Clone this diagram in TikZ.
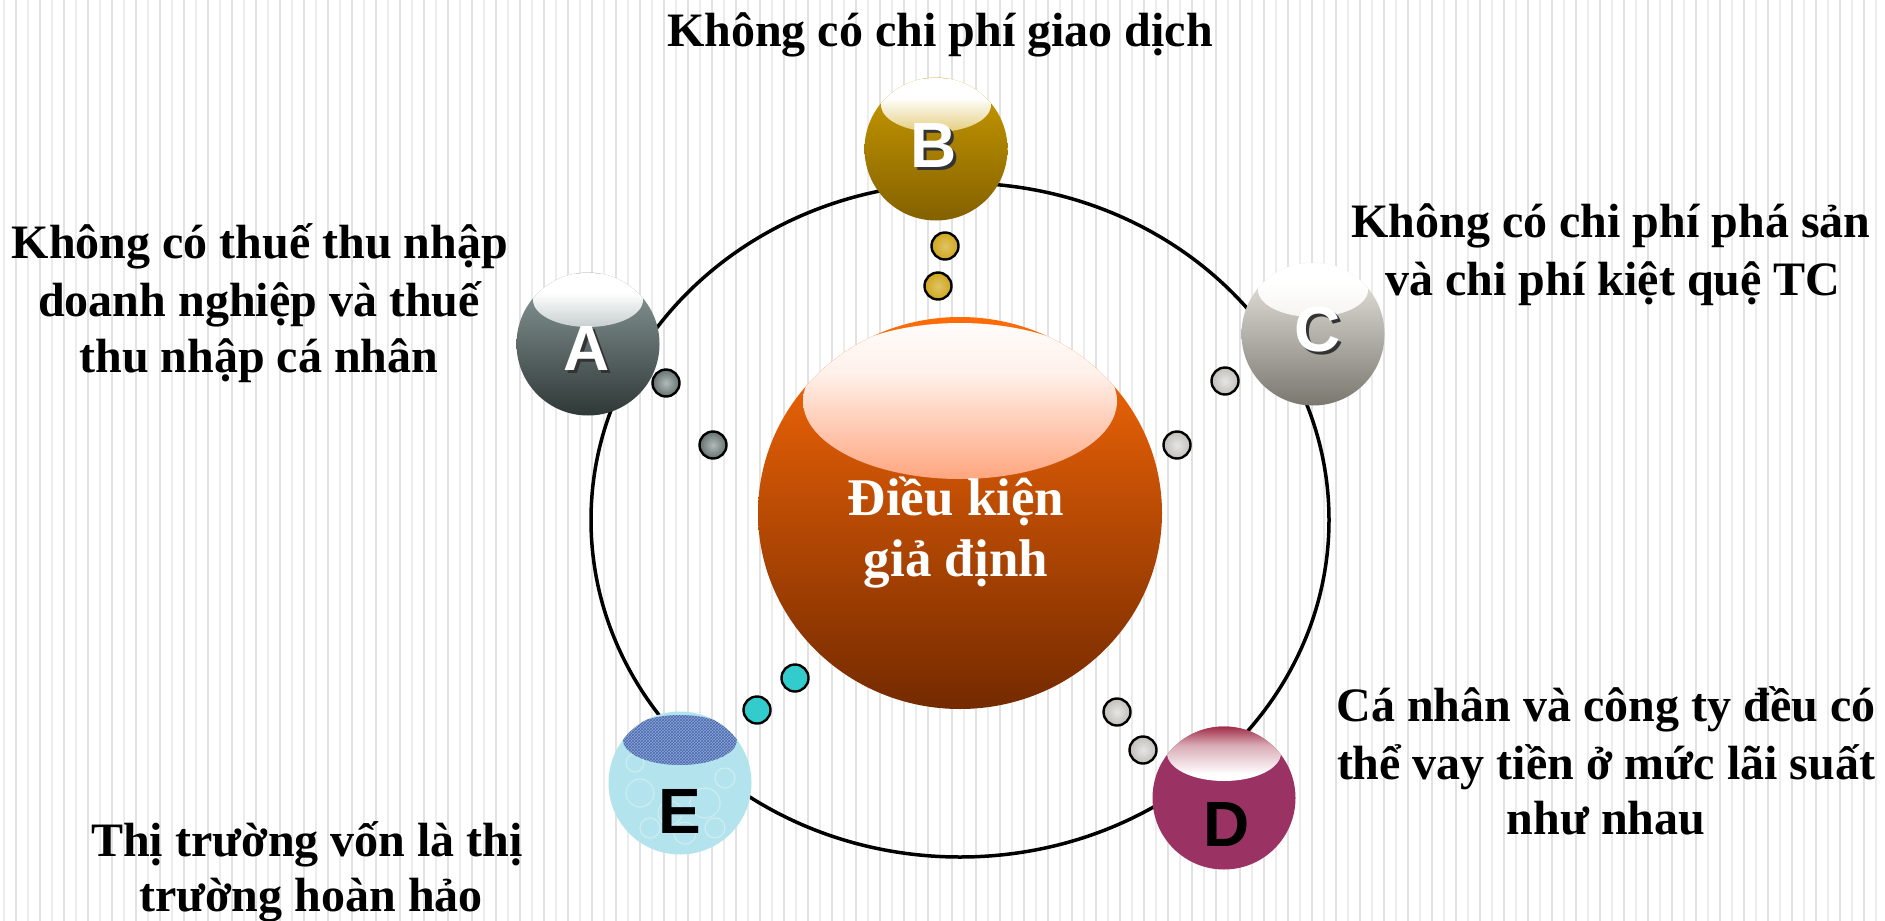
\documentclass[tikz,border=0pt]{standalone}
\usepackage{fontspec}
\setmainfont{Liberation Serif}
\newfontfamily\ballfont{Liberation Sans}
\usetikzlibrary{shapes.geometric,patterns,calc}

\definecolor{stripeA}{HTML}{E2E2E2}
\definecolor{stripeB}{HTML}{ECECEC}
\definecolor{coreTop}{HTML}{FF6C08}
\definecolor{coreMid}{HTML}{D35400}
\definecolor{coreBot}{HTML}{742A00}
\definecolor{coreHi}{HTML}{FF7438}
\definecolor{aTop}{HTML}{8E9E9C}
\definecolor{aMid}{HTML}{65716F}
\definecolor{aBot}{HTML}{2E3837}
\definecolor{bTop}{HTML}{CA9C00}
\definecolor{bMid}{HTML}{B08700}
\definecolor{bBot}{HTML}{846100}
\definecolor{cTop}{HTML}{EEECE6}
\definecolor{cMid}{HTML}{C2BFB8}
\definecolor{cBot}{HTML}{7A776F}
\definecolor{dBody}{HTML}{9B3264}
\definecolor{dRim}{HTML}{93102F}
\definecolor{eBody}{HTML}{B3E3EC}
\definecolor{eCap}{HTML}{8EA6DA}
\definecolor{eWeave}{HTML}{4A68AA}
\definecolor{dotCyan}{HTML}{33CCCC}

% glossy caps: white at the top, fading into the body colour below
\pgfdeclareverticalshading{hiCore}{100bp}{color(0bp)=(coreTop!85!coreMid); color(30bp)=(coreTop!85!coreMid);
  color(45bp)=(coreHi); color(58bp)=(coreHi!50!white); color(68bp)=(coreHi!10!white); color(76bp)=(white); color(100bp)=(white)}
\pgfdeclareverticalshading{hiA}{100bp}{color(0bp)=(aTop!92!black); color(44bp)=(aTop!92!black);
  color(56bp)=(aTop!50!white); color(68bp)=(white); color(100bp)=(white)}
\pgfdeclareverticalshading{hiB}{100bp}{color(0bp)=(bTop); color(44bp)=(bTop);
  color(56bp)=(bTop!50!white); color(68bp)=(white); color(100bp)=(white)}
\pgfdeclareverticalshading{hiC}{100bp}{color(0bp)=(cTop!94!black); color(44bp)=(cTop!94!black);
  color(56bp)=(cTop!60!white); color(68bp)=(white); color(100bp)=(white)}
\pgfdeclareverticalshading{hiD}{100bp}{color(0bp)=(white); color(58bp)=(white);
  color(68bp)=(dRim!35!white); color(76bp)=(dRim); color(100bp)=(dRim)}

\newcommand\castshadow[1]{\makebox[0pt][l]{\hspace{3pt}\raisebox{-3pt}{\color{black!80}#1}}#1}

\tikzset{
  stripethick/.style={stripeA, line width=2pt},
  stripethin/.style={stripeB, line width=1.1pt},
  orbit/.style={line width=3.5pt, black},
  ball/.style={circle, inner sep=0pt, minimum size=143pt},
  glossball/.style n args={4}{ball, top color=#1, middle color=#2, bottom color=#3,
    path picture={\shade[shading=#4]
      ([yshift=44pt]path picture bounding box.center) ellipse [x radius=55pt, y radius=27pt];}},
  letter/.style={font=\ballfont\bfseries\fontsize{64}{64}\selectfont, inner sep=0pt},
  pellet/.style={circle, inner sep=0pt, minimum size=27pt, draw=black, line width=2.4pt},
  caption/.style={font=\bfseries\fontsize{48}{56}\selectfont, anchor=base, inner sep=0pt},
  corecaption/.style={font=\bfseries\fontsize{53}{60}\selectfont, text=white, anchor=base, inner sep=0pt},
}

\begin{document}
\begin{tikzpicture}[x=1pt, y=-1pt]
\useasboundingbox (0,0) rectangle (1885,921);
\fill[white] (0,0) rectangle (1885,921);

% striped backdrop
\foreach \i in {0,...,78}{
  \draw[stripethin]  (4+24*\i,0) -- (4+24*\i,921);
  \draw[stripethick] (16+24*\i,0) -- (16+24*\i,921);
}

% orbit
\draw[orbit] (960,520) ellipse [x radius=369, y radius=337];

% central sphere
\node[ellipse, inner sep=0pt, minimum width=404pt, minimum height=392pt,
      top color=coreTop, middle color=coreMid, bottom color=coreBot,
      path picture={\shade[shading=hiCore]
        ([yshift=112pt]path picture bounding box.center) ellipse [x radius=157pt, y radius=78pt];}]
      (core) at (960,513) {};
\node[corecaption] (core1) at (956,515) {Điều kiện};
\node[corecaption] (core2) at (956,576) {giả định};

% outer spheres
\node[glossball={aTop}{aMid}{aBot}{hiA}] (A) at (588,344) {};
\node[glossball={bTop}{bMid}{bBot}{hiB}] (B) at (936,149) {};
\node[glossball={cTop}{cMid}{cBot}{hiC}] (C) at (1313,334) {};
\node[ball, fill=dBody,
      path picture={\shade[shading=hiD]
        ([yshift=45pt]path picture bounding box.center) ellipse [x radius=57pt, y radius=28pt];}]
      (D) at (1224,798) {};
\node[ball, fill=eBody,
      path picture={
        \foreach \dx/\dy/\r in {-40/10/14,-10/30/12,25/20/15,45/-5/10,-45/-20/9,5/50/11,35/45/10,-30/45/10}{
          \draw[white, opacity=0.35, line width=1.2pt] ($(path picture bounding box.center)+(\dx,\dy)$) circle [radius=\r];
        }
        \fill[eCap] ([yshift=43pt]path picture bounding box.center) ellipse [x radius=57pt, y radius=25pt];
        \fill[pattern=crosshatch, pattern color=eWeave] ([yshift=43pt]path picture bounding box.center) ellipse [x radius=57pt, y radius=25pt];
      }]
      (E) at (680,783) {};

% sphere letters
\node[letter, text=white] (A-l) at (587,350) {\castshadow{A}};
\node[letter, text=white] (B-l) at (934,147) {\castshadow{B}};
\node[letter, text=white] (C-l) at (1318,331) {\castshadow{C}};
\node[letter, text=black] (D-l) at (1227,824) {D};
\node[letter, text=black] (E-l) at (680,811) {E};

% pellets between the core and each sphere
\node[pellet, inner color=aTop!70!white, outer color=aMid] (a1) at (666,383) {};
\node[pellet, inner color=aTop!70!white, outer color=aMid] (a2) at (713,445) {};
\node[pellet, inner color=bTop!60!white, outer color=bTop!90!white] (b1) at (945,246) {};
\node[pellet, inner color=bTop!60!white, outer color=bTop!90!white] (b2) at (938,286) {};
\node[pellet, inner color=white!90!black, outer color=cMid] (c1) at (1225,381) {};
\node[pellet, inner color=white!90!black, outer color=cMid] (c2) at (1177,445) {};
\node[pellet, inner color=white!90!black, outer color=cMid] (d1) at (1117,712) {};
\node[pellet, inner color=white!90!black, outer color=cMid] (d2) at (1143,750) {};
\node[pellet, fill=dotCyan] (e1) at (757,710) {};
\node[pellet, fill=dotCyan] (e2) at (795,678) {};

% captions
\node[caption] (tB) at (940,46) {Không có chi phí giao dịch};

\node[caption] (tA1) at (260,258) {Không có thuế thu nhập};
\node[caption] (tA2) at (259,316) {doanh nghiệp và thuế};
\node[caption] (tA3) at (259,372) {thu nhập cá nhân};

\node[caption] (tC1) at (1611,237) {Không có chi phí phá sản};
\node[caption] (tC2) at (1613,295) {và chi phí kiệt quệ TC};

\node[caption] (tD1) at (1606,721) {Cá nhân và công ty đều có};
\node[caption] (tD2) at (1606,779) {thể vay tiền ở mức lãi suất};
\node[caption] (tD3) at (1606,834) {như nhau};

\node[caption] (tE1) at (307,856) {Thị trường vốn là thị};
\node[caption] (tE2) at (311,911) {trường hoàn hảo};
\end{tikzpicture}
\end{document}
